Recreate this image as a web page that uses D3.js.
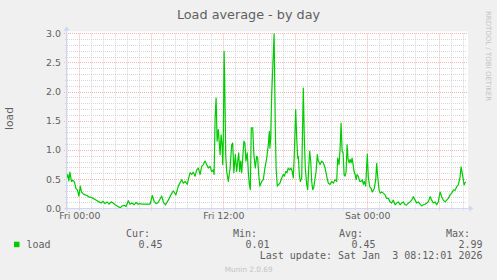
<!DOCTYPE html>
<html>
<head>
<meta charset="utf-8">
<script src="https://cdn.jsdelivr.net/npm/d3@7"></script>
<style>
  html, body { margin: 0; padding: 0; background: #F0F0F0; }
  svg { display: block; }
  text { font-family: "DejaVu Sans", sans-serif; fill: #606060; }
  .mono { font-family: "DejaVu Sans Mono", monospace; }
</style>
</head>
<body>
<div id="chart"></div>
<script>
// Chart data (minutes since Fri 00:00, load average)
const title = "Load average - by day";
const seriesName = "load";
const yTicks = [0, 0.5, 1.0, 1.5, 2.0, 2.5, 3.0];
const xLabels = ["Fri 00:00", "Fri 12:00", "Sat 00:00"];
const legendHeads = ["Cur:", "Min:", "Avg:", "Max:"];
const legendValues = ["0.45", "0.01", "0.45", "2.99"];
const lastUpdate = "Last update: Sat Jan  3 08:12:01 2026";

const minutes = [
  -63, -57, -52, -47, -39, -32, -24, -17, -9, -2, 5, 11, 19, 29, 39, 49, 59, 69, 79, 89,
  99, 109, 119, 129, 139, 149, 159, 169, 179, 189, 199, 206, 214, 224, 234, 245, 254, 264, 274, 284,
  294, 304, 314, 329, 344, 354, 365, 374, 384, 394, 404, 412, 421, 431, 445, 458, 470, 483, 495, 512,
  520, 529, 540, 545, 554, 562, 570, 579, 587, 595, 604, 612, 620, 629, 637, 645, 654, 662, 670, 674,
  679, 684, 689, 695, 704, 709, 714, 717, 720, 724, 727, 732, 737, 745, 754, 762, 767, 773, 780, 787,
  792, 797, 802, 807, 812, 817, 823, 828, 833, 840, 845, 850, 855, 860, 867, 873, 880, 887, 892, 897,
  903, 912, 920, 928, 937, 945, 950, 953, 957, 962, 974, 980, 984, 990, 1003, 1012, 1020, 1025, 1032, 1038,
  1045, 1052, 1058, 1065, 1070, 1075, 1082, 1087, 1092, 1095, 1100, 1105, 1112, 1120, 1125, 1130, 1137, 1142, 1147, 1152,
  1157, 1162, 1167, 1172, 1179, 1184, 1190, 1195, 1204, 1212, 1220, 1229, 1237, 1245, 1254, 1262, 1270, 1279, 1287, 1292,
  1299, 1304, 1309, 1314, 1319, 1324, 1329, 1334, 1339, 1344, 1349, 1354, 1359, 1364, 1369, 1374, 1379, 1384, 1389, 1395,
  1402, 1409, 1415, 1420, 1425, 1432, 1440, 1445, 1452, 1459, 1465, 1470, 1475, 1482, 1487, 1492, 1499, 1505, 1512, 1520,
  1529, 1537, 1545, 1554, 1562, 1570, 1579, 1587, 1595, 1604, 1612, 1620, 1629, 1637, 1645, 1654, 1662, 1670, 1679, 1687,
  1695, 1704, 1712, 1720, 1729, 1737, 1745, 1754, 1762, 1770, 1779, 1787, 1795, 1804, 1812, 1820, 1829, 1837, 1845, 1854,
  1862, 1870, 1879, 1887, 1895, 1904, 1909, 1915, 1920, 1924, 1929, 1932
];
const load = [
  0.52, 0.58, 0.47, 0.62, 0.46, 0.48, 0.45, 0.34, 0.31, 0.21, 0.38, 0.28, 0.25, 0.23, 0.22, 0.19, 0.19, 0.17, 0.15, 0.13,
  0.11, 0.09, 0.12, 0.08, 0.11, 0.07, 0.11, 0.09, 0.06, 0.04, 0.02, 0.01, 0.04, 0.05, 0.03, 0.13, 0.07, 0.09, 0.06, 0.10,
  0.07, 0.08, 0.07, 0.07, 0.07, 0.07, 0.22, 0.12, 0.08, 0.10, 0.16, 0.21, 0.10, 0.06, 0.14, 0.23, 0.30, 0.23, 0.38, 0.49,
  0.43, 0.46, 0.41, 0.49, 0.61, 0.58, 0.62, 0.55, 0.66, 0.69, 0.58, 0.72, 0.75, 0.81, 0.75, 0.69, 0.72, 0.63, 0.66, 0.58,
  1.55, 1.89, 1.15, 1.35, 0.92, 1.26, 1.09, 0.75, 1.15, 2.69, 2.18, 0.92, 0.63, 0.46, 0.69, 1.09, 1.12, 0.61, 0.92, 0.63,
  0.81, 0.95, 0.63, 0.81, 0.61, 0.86, 1.15, 1.12, 0.81, 0.95, 0.63, 0.41, 0.32, 1.38, 1.38, 0.92, 0.69, 0.89, 0.86, 0.58,
  0.38, 0.46, 0.49, 0.69, 0.86, 1.09, 1.32, 1.03, 1.21, 1.95, 2.99, 1.38, 0.69, 0.38, 0.43, 0.52, 0.58, 0.55, 0.63, 0.61,
  0.69, 0.66, 0.69, 0.63, 0.52, 0.92, 1.69, 1.21, 0.86, 0.89, 0.58, 0.46, 0.52, 2.06, 1.21, 0.69, 0.41, 0.32, 0.69, 0.98,
  0.81, 0.46, 0.32, 0.35, 0.52, 0.63, 0.92, 0.81, 0.75, 0.81, 0.78, 0.69, 0.55, 0.43, 0.41, 0.46, 0.43, 0.49, 0.46, 0.86,
  0.75, 1.03, 1.46, 0.98, 0.95, 0.58, 0.55, 0.63, 1.09, 0.84, 0.78, 0.84, 0.78, 0.86, 0.75, 0.63, 0.58, 0.49, 0.58, 0.55,
  0.46, 0.46, 0.49, 0.41, 0.46, 0.38, 0.93, 0.54, 0.37, 0.34, 0.28, 0.31, 0.34, 0.49, 0.77, 0.54, 0.31, 0.26, 0.28, 0.26,
  0.23, 0.17, 0.17, 0.11, 0.09, 0.14, 0.06, 0.09, 0.11, 0.06, 0.09, 0.11, 0.06, 0.06, 0.09, 0.11, 0.14, 0.20, 0.14, 0.09,
  0.11, 0.07, 0.04, 0.06, 0.07, 0.09, 0.11, 0.20, 0.14, 0.09, 0.11, 0.06, 0.11, 0.28, 0.20, 0.14, 0.11, 0.14, 0.17, 0.23,
  0.26, 0.31, 0.31, 0.37, 0.40, 0.54, 0.71, 0.60, 0.49, 0.40, 0.44, 0.45
];

const W = 497, H = 280;
const plot = { left: 67, right: 467, top: 33.3, bottom: 208.3 };

const base = new Date(2026, 0, 2, 0, 0, 0);
const at = m => new Date(base.getTime() + m * 60000);

const svg = d3.select("#chart").append("svg")
  .attr("width", W)
  .attr("height", H);

svg.append("rect").attr("width", W).attr("height", H).attr("fill", "#F0F0F0");

// scales: 400px covers 2000 minutes (5 min per pixel)
const x = d3.scaleTime()
  .domain([at(-61.5), at(1938.5)])
  .range([plot.left, plot.right]);

const y = d3.scaleLinear()
  .domain([0, 3])
  .range([plot.bottom, plot.top]);

const crisp = v => Math.round(v) + 0.5;

// canvas
svg.append("rect")
  .attr("x", plot.left).attr("y", plot.top - 2)
  .attr("width", plot.right - plot.left + 1).attr("height", plot.bottom - plot.top + 2)
  .attr("fill", "#FFFFFF");

const grid = svg.append("g");
const minorColor = "#D6D6D6";
const majorColor = "#F4B4B4";

// minor grid
const minorY = d3.range(0, 3.001, 0.1).filter(v => Math.abs(v * 2 - Math.round(v * 2)) > 1e-6);
grid.selectAll(".hmin").data(minorY).enter().append("line")
  .attr("x1", plot.left - 2).attr("x2", plot.right)
  .attr("y1", d => crisp(y(d))).attr("y2", d => crisp(y(d)))
  .attr("stroke", minorColor).attr("stroke-dasharray", "1,1");

const hours = x.ticks(d3.timeHour.every(1)).filter(d => d.getHours() % 6 !== 0);
grid.selectAll(".vmin").data(hours).enter().append("line")
  .attr("x1", d => crisp(x(d))).attr("x2", d => crisp(x(d)))
  .attr("y1", plot.top).attr("y2", plot.bottom + 2)
  .attr("stroke", minorColor).attr("stroke-dasharray", "1,1");

// major grid
grid.selectAll(".hmaj").data(yTicks).enter().append("line")
  .attr("x1", plot.left - 3).attr("x2", plot.right)
  .attr("y1", d => crisp(y(d))).attr("y2", d => crisp(y(d)))
  .attr("stroke", majorColor).attr("stroke-dasharray", "1,1");

const sixes = x.ticks(d3.timeHour.every(6));
grid.selectAll(".vmaj").data(sixes).enter().append("line")
  .attr("x1", d => crisp(x(d))).attr("x2", d => crisp(x(d)))
  .attr("y1", plot.top).attr("y2", plot.bottom + 3)
  .attr("stroke", majorColor).attr("stroke-dasharray", "1,1");

// y tick labels
const yAxis = svg.append("g")
  .attr("transform", `translate(${plot.left - 6},0)`)
  .call(d3.axisLeft(y).tickValues(yTicks).tickFormat(d3.format(".1f")).tickSize(0).tickPadding(0));
yAxis.select(".domain").remove();
yAxis.selectAll("text")
  .attr("fill", "#606060")
  .style("font-family", "DejaVu Sans")
  .style("font-size", "9.4px");

// x tick labels
const xAxis = svg.append("g")
  .attr("transform", `translate(0,${plot.bottom + 4})`)
  .call(d3.axisBottom(x)
    .tickValues(x.ticks(d3.timeHour.every(12)))
    .tickFormat((d, i) => xLabels[i])
    .tickSize(0).tickPadding(0));
xAxis.select(".domain").remove();
xAxis.selectAll("text")
  .attr("fill", "#606060")
  .attr("dy", "0.75em")
  .style("font-family", "DejaVu Sans")
  .style("font-size", "9.4px");

// data line
const points = minutes.map((m, i) => ({ t: at(m), v: load[i] }));
svg.append("path")
  .datum(points)
  .attr("fill", "none")
  .attr("stroke", "#00CC00")
  .attr("stroke-width", 1.2)
  .attr("stroke-linejoin", "round")
  .attr("d", d3.line().x(d => x(d.t)).y(d => y(d.v)));

// axes with arrows
const axisColor = "#CFD6F8";
svg.append("line")
  .attr("x1", plot.left - 0.5).attr("x2", plot.left - 0.5)
  .attr("y1", plot.bottom + 3).attr("y2", plot.top - 3)
  .attr("stroke", axisColor);
svg.append("path")
  .attr("d", `M${plot.left - 3.5},${plot.top - 2.5}L${plot.left - 0.5},${plot.top - 7}L${plot.left + 2.5},${plot.top - 2.5}Z`)
  .attr("fill", axisColor);
svg.append("line")
  .attr("x1", plot.left - 3).attr("x2", plot.right + 3)
  .attr("y1", crisp(plot.bottom)).attr("y2", crisp(plot.bottom))
  .attr("stroke", axisColor);
svg.append("path")
  .attr("d", `M${plot.right + 2},${crisp(plot.bottom) - 3}L${plot.right + 6.5},${crisp(plot.bottom)}L${plot.right + 2},${crisp(plot.bottom) + 3}Z`)
  .attr("fill", axisColor);

// title
svg.append("text")
  .attr("x", 248.5).attr("y", 18.5)
  .attr("text-anchor", "middle")
  .style("font-size", "12.8px")
  .text(title);

// vertical label
svg.append("text")
  .attr("transform", "translate(12.8,118.5) rotate(-90)")
  .attr("text-anchor", "middle")
  .style("font-size", "10.7px")
  .text(seriesName);

// watermark
svg.append("text")
  .attr("transform", "translate(485.5,56) rotate(90)")
  .attr("text-anchor", "middle")
  .style("font-size", "7px")
  .style("fill", "#C4C4C4")
  .text("RRDTOOL / TOBI OETIKER");

// legend
const headX = [150, 257, 363, 470];
const valX = [162.5, 269.5, 375.5, 482.5];
const legend = svg.append("g").attr("class", "mono");
legend.selectAll(".head").data(legendHeads).enter().append("text")
  .attr("class", "mono")
  .attr("x", (d, i) => headX[i]).attr("y", 236.6)
  .attr("text-anchor", "end")
  .style("font-size", "10px")
  .text(d => d);
legend.selectAll(".val").data(legendValues).enter().append("text")
  .attr("class", "mono")
  .attr("x", (d, i) => valX[i]).attr("y", 248)
  .attr("text-anchor", "end")
  .style("font-size", "10px")
  .text(d => d);
legend.append("rect")
  .attr("x", 14).attr("y", 241.7).attr("width", 5.5).attr("height", 5.5)
  .attr("fill", "#00CC00");
legend.append("text")
  .attr("class", "mono")
  .attr("x", 26.5).attr("y", 248)
  .style("font-size", "10px")
  .text(seriesName);
legend.append("text")
  .attr("class", "mono")
  .attr("x", 482.5).attr("y", 259.3)
  .attr("text-anchor", "end")
  .style("font-size", "10px")
  .style("white-space", "pre")
  .attr("xml:space", "preserve")
  .text(lastUpdate);

svg.append("text")
  .attr("x", 248.7).attr("y", 272)
  .attr("text-anchor", "middle")
  .style("font-size", "7.3px")
  .style("fill", "#C4C4C4")
  .text("Munin 2.0.69");
</script>
</body>
</html>
